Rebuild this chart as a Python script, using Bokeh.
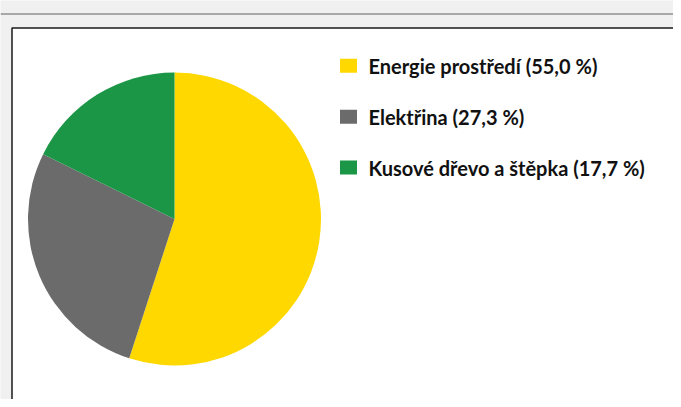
import math
from bokeh.plotting import figure
from bokeh.models import Range1d, ColumnDataSource
from bokeh.core.properties import value
from bokeh.embed import file_html
from bokeh.resources import INLINE

# ---- data ----
categories = ["Energie prostředí", "Elektřina", "Kusové dřevo a štěpka"]
shares = [55.0, 27.3, 17.7]
colors = ["#FFD800", "#6B6B6B", "#1B9646"]

# ---- layout (pixels of the canvas) ----
W, H = 673, 399
BG = "#F0F0F0"

p = figure(width=W, height=H, output_backend="svg", toolbar_location=None,
           x_range=Range1d(0, W), y_range=Range1d(0, H), min_border=0,
           x_axis_location=None, y_axis_location=None,
           background_fill_color=BG, border_fill_color=BG, outline_line_color=None)
p.grid.visible = False

# separator line under (cut-off) title area
p.segment(x0=[0], x1=[W], y0=[H - 13.5], y1=[H - 13.5], line_color="#A8A8A8", line_width=2)

# white chart box
p.quad(left=[11.5], right=[W + 20], top=[H - 27.5], bottom=[-20],
       fill_color="white", line_color="#1A1A1A", line_width=1.5)

# pie
total = sum(shares)
starts, ends = [], []
cum = 0.0
for v in shares:
    starts.append(math.pi / 2 - cum / total * 2 * math.pi)
    cum += v
    ends.append(math.pi / 2 - cum / total * 2 * math.pi)

pie = ColumnDataSource(dict(start=starts, end=ends, color=colors))
cx, cy, r = 174, H - 218.5, 146.5
p.wedge(x=cx, y=cy, radius=r, radius_units="screen", start_angle="start", end_angle="end",
        direction="clock", fill_color="color", line_color=None, source=pie)

# legend
labels = [f"{c} ({v:.1f} %)".replace(".", ",") for c, v in zip(categories, shares)]
step = 50.85
n = len(labels)
leg = ColumnDataSource(dict(
    x=[348] * n,
    y=[H - (65.3 + i * step) for i in range(n)],
    ty=[H - (65.8 + i * step) for i in range(n)],
    tx=[368] * n,
    color=colors, label=labels))
p.rect(x="x", y="y", width=17, height=14, fill_color="color", line_color=None, source=leg)
p.text(x="tx", y="ty", text="label", source=leg, text_font=value("Lato"),
       text_font_style="bold", text_font_size="20px", text_color="#111111",
       text_baseline="middle", text_align="left")

open("out.html", "w").write(file_html(p, INLINE))
